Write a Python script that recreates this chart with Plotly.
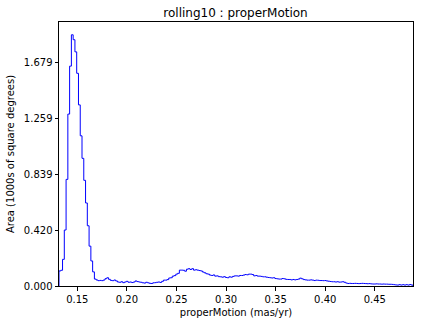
import numpy as np
import plotly.graph_objects as go

# Histogram (step) of properMotion, 200 bins
x_start = 0.1315
x_stop = 0.4885
n_bins = 200
area = [
    0.113, 0.118, 0.200, 0.420, 0.800, 1.290, 1.650, 1.885, 1.848, 1.757,
    1.596, 1.359, 1.127, 0.958, 0.793, 0.623, 0.452, 0.299, 0.188, 0.106,
    0.052, 0.045, 0.040, 0.042, 0.040, 0.045, 0.055, 0.062, 0.050, 0.042,
    0.040, 0.045, 0.038, 0.030, 0.028, 0.032, 0.025, 0.030, 0.035, 0.028,
    0.030, 0.026, 0.030, 0.038, 0.033, 0.030, 0.028, 0.024, 0.022, 0.028,
    0.024, 0.020, 0.019, 0.024, 0.025, 0.028, 0.030, 0.027, 0.035, 0.044,
    0.044, 0.048, 0.060, 0.062, 0.074, 0.078, 0.089, 0.095, 0.119, 0.119,
    0.118, 0.111, 0.126, 0.130, 0.124, 0.130, 0.119, 0.122, 0.119, 0.116,
    0.113, 0.105, 0.099, 0.092, 0.089, 0.082, 0.079, 0.083, 0.074, 0.076,
    0.070, 0.069, 0.066, 0.070, 0.064, 0.062, 0.069, 0.066, 0.072, 0.076,
    0.076, 0.074, 0.079, 0.079, 0.082, 0.086, 0.084, 0.089, 0.089, 0.086,
    0.076, 0.079, 0.074, 0.074, 0.072, 0.069, 0.069, 0.066, 0.064, 0.062,
    0.060, 0.062, 0.056, 0.054, 0.052, 0.052, 0.056, 0.054, 0.050, 0.049,
    0.049, 0.046, 0.049, 0.046, 0.049, 0.052, 0.059, 0.054, 0.048, 0.046,
    0.044, 0.044, 0.046, 0.044, 0.041, 0.044, 0.043, 0.041, 0.041, 0.040,
    0.041, 0.038, 0.036, 0.034, 0.032, 0.032, 0.030, 0.032, 0.029, 0.030,
    0.032, 0.028, 0.022, 0.019, 0.020, 0.019, 0.019, 0.020, 0.019, 0.018,
    0.019, 0.020, 0.019, 0.018, 0.017, 0.018, 0.016, 0.015, 0.015, 0.016,
    0.015, 0.015, 0.014, 0.015, 0.014, 0.014, 0.013, 0.013, 0.012, 0.010,
    0.008, 0.007, 0.010, 0.007, 0.010, 0.007, 0.010, 0.007, 0.011, 0.007,
]
y_ticks = [0.0, 0.4197, 0.8394, 1.2591, 1.6788]
y_tick_labels = ["0.000", "0.420", "0.839", "1.259", "1.679"]
x_ticks = [0.15, 0.20, 0.25, 0.30, 0.35, 0.40, 0.45]
x_tick_labels = ["0.15", "0.20", "0.25", "0.30", "0.35", "0.40", "0.45"]

edges = np.linspace(x_start, x_stop, n_bins + 1)
xs = [edges[0]] + list(edges) + [edges[-1]]
ys = [0.0] + list(area) + [area[-1], 0.0]

fig = go.Figure()
fig.add_trace(go.Scatter(x=xs, y=ys, mode="lines", line=dict(color="blue", width=1, shape="hv"),
                         showlegend=False))

font = "DejaVu Sans"
fig.update_layout(
    width=424, height=327,
    margin=dict(l=57, r=10, t=22, b=38),
    paper_bgcolor="white", plot_bgcolor="white",
    font=dict(family=font, size=10, color="black"),
    title=dict(text="rolling10 : properMotion", x=235.5 / 424, xanchor="center",
               y=1 - 13 / 327, yanchor="middle", font=dict(family=font, size=12, color="black")),
    showlegend=False,
)
fig.update_xaxes(
    range=[x_start, x_stop], tickvals=x_ticks, ticktext=x_tick_labels,
    showgrid=False, zeroline=False, showline=True, linecolor="black", linewidth=1, mirror=True,
    ticks="outside", ticklen=3.5, tickcolor="black", tickwidth=0.8,
    title=dict(text="properMotion (mas/yr)", font=dict(family=font, size=10), standoff=5),
)
fig.update_yaxes(
    range=[0, 1.981], tickvals=y_ticks, ticktext=y_tick_labels,
    showgrid=False, zeroline=False, showline=True, linecolor="black", linewidth=1, mirror=True,
    ticks="outside", ticklen=3.5, tickcolor="black", tickwidth=0.8,
    title=dict(text="Area (1000s of square degrees)", font=dict(family=font, size=10), standoff=7),
)
fig.write_html("out.html")
